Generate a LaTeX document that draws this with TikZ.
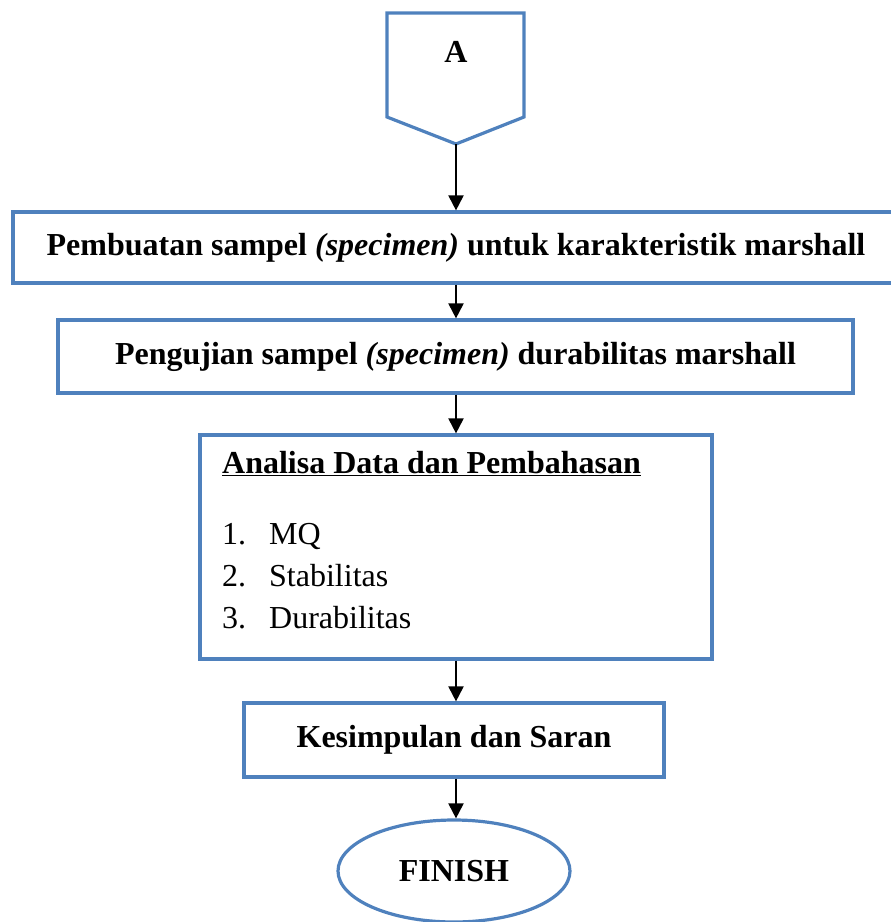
\documentclass[tikz,border=0pt]{standalone}
\usepackage{fontspec}
\setmainfont{Liberation Serif}
\usetikzlibrary{arrows.meta,shapes.geometric}
\definecolor{boxblue}{RGB}{79,129,189}
\begin{document}
\begin{tikzpicture}[x=1pt,y=-1pt,
  every node/.style={font=\fontsize{32}{38}\selectfont},
  box/.style={draw=boxblue,line width=3.2pt,rectangle,inner sep=0pt,font=\fontsize{32}{38}\selectfont\bfseries},
  arr/.style={line width=2pt,-{Triangle[width=15pt,length=15pt]}},
  lbl/.style={anchor=base west,inner sep=0pt},
]
\useasboundingbox (0,0) rectangle (891,922);
% off-page connector A
\draw[boxblue,line width=3.2pt,line join=miter] (387,13) -- (524,13) -- (524,117) -- (456,144) -- (387,117) -- cycle;
\coordinate (Atip) at (456,144);
\node[font=\fontsize{32}{38}\selectfont\bfseries] (A) at (456,52) {A};
% boxes
\node[box,minimum width=886pt,minimum height=71pt] (b1) at (456,247.5) {Pembuatan sampel \textit{(specimen)} untuk karakteristik marshall};
\node[box,minimum width=795pt,minimum height=73pt] (b2) at (455.5,356.5) {Pengujian sampel \textit{(specimen)} durabilitas marshall};
\node[box,minimum width=512pt,minimum height=224pt] (b3) at (456,547) {};
\node[lbl,font=\fontsize{32}{38}\selectfont\bfseries] (h3) at (222,473) {\underline{Analisa Data dan Pembahasan}};
\node[lbl] (n1) at (222,544) {\makebox[47pt][l]{1.}MQ};
\node[lbl] (n2) at (222,586) {\makebox[47pt][l]{2.}Stabilitas};
\node[lbl] (n3) at (222,628) {\makebox[47pt][l]{3.}Durabilitas};
\node[box,minimum width=420pt,minimum height=74pt] (b4) at (454,740) {Kesimpulan dan Saran};
\node[draw=boxblue,line width=3.2pt,ellipse,inner sep=0pt,minimum width=232pt,minimum height=102pt,font=\fontsize{32}{38}\selectfont\bfseries] (fin) at (454,871) {FINISH};
% arrows
\draw[arr] (Atip) -- (Atip |- b1.north);
\draw[arr] (456,0 |- b1.south) -- (456,0 |- b2.north);
\draw[arr] (456,0 |- b2.south) -- (456,0 |- b3.north);
\draw[arr] (456,0 |- b3.south) -- (456,0 |- b4.north);
\draw[arr] (456,0 |- b4.south) -- (456,0 |- fin.north);
\end{tikzpicture}
\end{document}
